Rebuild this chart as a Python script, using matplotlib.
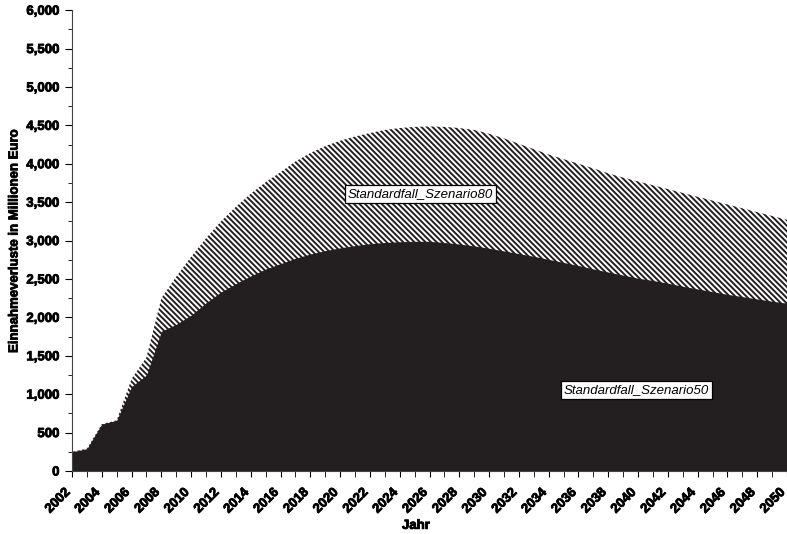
import matplotlib
matplotlib.use('Agg')
import matplotlib.pyplot as plt
import matplotlib.patheffects as pe
from matplotlib.ticker import MultipleLocator, FuncFormatter
from matplotlib.transforms import ScaledTranslation

years = list(range(2002, 2051))

# Standardfall_Szenario50 (lower, solid black)
szenario50 = [250, 290, 610, 660, 1100, 1250, 1820, 1910, 2030, 2190,
              2330, 2440, 2540, 2630, 2700, 2770, 2825, 2870, 2905, 2935,
              2960, 2975, 2985, 2990, 2990, 2975, 2955, 2930, 2900, 2865,
              2830, 2795, 2755, 2715, 2675, 2630, 2590, 2550, 2510, 2480,
              2445, 2405, 2370, 2335, 2300, 2270, 2240, 2210, 2185]

# Standardfall_Szenario80 (upper, hatched)
szenario80 = [250, 290, 610, 660, 1200, 1480, 2250, 2530, 2790, 3030,
              3250, 3440, 3610, 3760, 3890, 4030, 4140, 4230, 4300, 4355,
              4400, 4440, 4465, 4480, 4485, 4480, 4465, 4440, 4390, 4330,
              4260, 4190, 4120, 4060, 4000, 3940, 3875, 3820, 3770, 3720,
              3670, 3620, 3570, 3520, 3470, 3420, 3370, 3320, 3270]

plt.rcParams['font.family'] = ['Liberation Sans', 'DejaVu Sans']
plt.rcParams['hatch.linewidth'] = 1.4
plt.rcParams['hatch.color'] = '#231f20'

heavy = [pe.withStroke(linewidth=0.6, foreground='black')]

fig = plt.figure(figsize=(7.87, 5.34), dpi=100)
ax = fig.add_axes([0.0915, 0.118, 0.9085, 0.863])

ax.fill_between(years, 0, szenario80, facecolor='white', edgecolor='#231f20',
                hatch='\\' * 6, linewidth=0)
ax.fill_between(years, 0, szenario50, facecolor='#231f20', edgecolor='#231f20',
                linewidth=0)

ax.set_xlim(2002, 2050)
ax.set_ylim(0, 6000)

ax.spines['top'].set_visible(False)
ax.spines['right'].set_visible(False)
ax.spines['left'].set_color('#444444')
ax.spines['bottom'].set_color('#444444')

ax.yaxis.set_major_locator(MultipleLocator(500))
ax.yaxis.set_minor_locator(MultipleLocator(250))
ax.yaxis.set_major_formatter(FuncFormatter(lambda v, p: f"{int(v):,}"))
ax.xaxis.set_major_locator(MultipleLocator(2))
ax.xaxis.set_minor_locator(MultipleLocator(1))

ax.tick_params(axis='y', which='major', direction='out', length=5, labelsize=9.5, pad=4)
ax.tick_params(axis='y', which='minor', direction='out', length=3)
ax.tick_params(axis='x', which='both', direction='out', length=4, labelsize=9.5, pad=7)

for lab in ax.get_yticklabels():
    lab.set_fontweight('bold')
    lab.set_path_effects(heavy)
shift = ScaledTranslation(-5.5 / 72, 0, fig.dpi_scale_trans)
for lab in ax.get_xticklabels():
    lab.set_fontweight('bold')
    lab.set_path_effects(heavy)
    lab.set_rotation(45)
    lab.set_ha('right')
    lab.set_va('top')
    lab.set_rotation_mode('anchor')
    lab.set_transform(lab.get_transform() + shift)

ax.set_ylabel('Einnahmeverluste in Millionen Euro', fontsize=9.5, fontweight='bold',
              path_effects=heavy)
ax.yaxis.set_label_coords(-0.072, 0.5)
ax.set_xlabel('Jahr', fontsize=9.5, fontweight='bold', path_effects=heavy)
ax.xaxis.set_label_coords(0.481, -0.106)

box = dict(boxstyle='square,pad=0.2', facecolor='white', edgecolor='black', linewidth=0.9)
ax.text(2025.4, 3607, 'Standardfall_Szenario80', fontsize=9.5, style='italic',
        ha='center', va='center', bbox=box)
ax.text(2039.9, 1055, 'Standardfall_Szenario50', fontsize=9.5, style='italic',
        ha='center', va='center', bbox=box)

fig.savefig('out.png', dpi=100)
